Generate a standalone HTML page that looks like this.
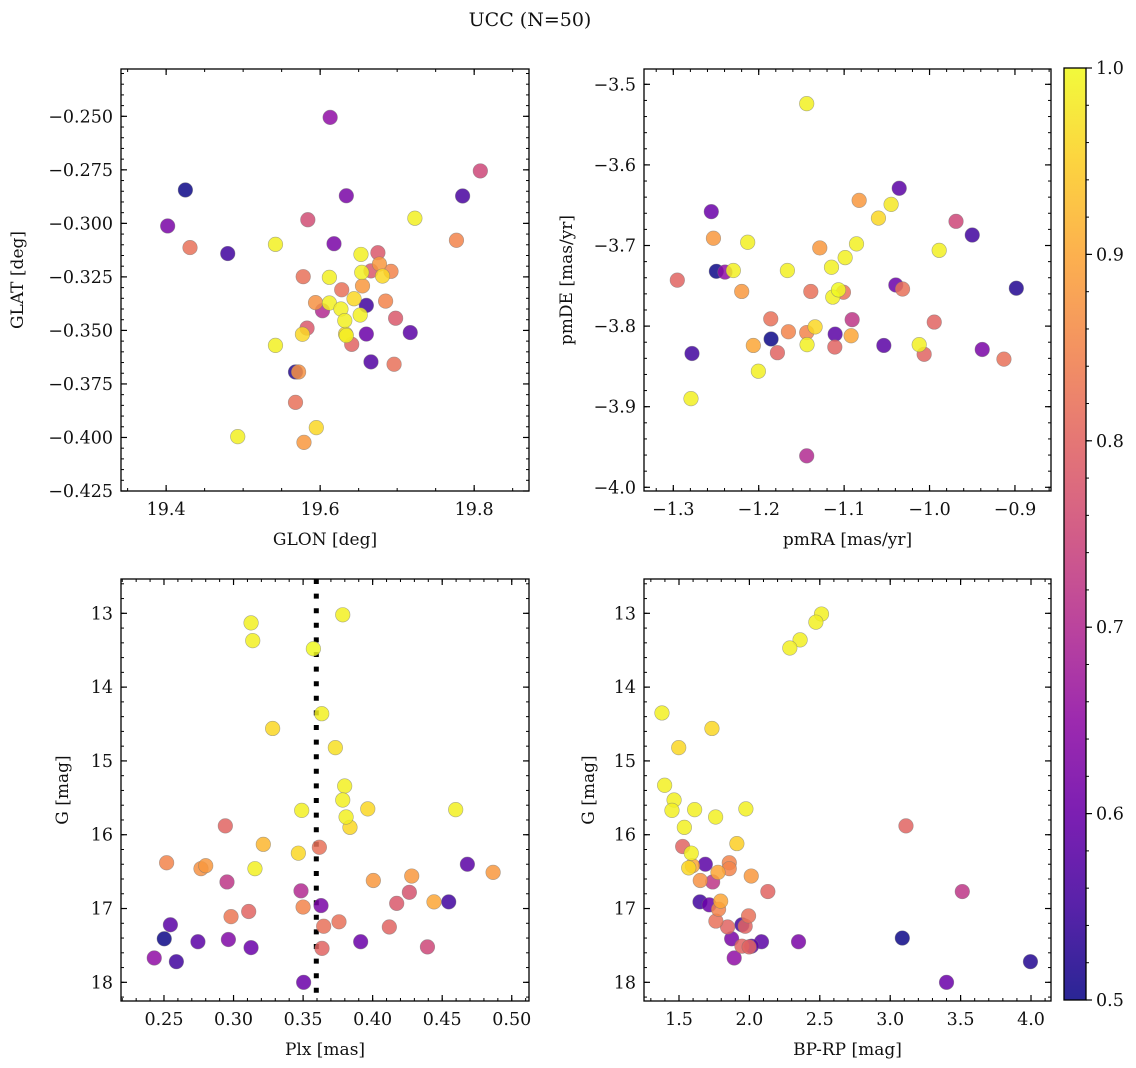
<!DOCTYPE html>
<html><head><meta charset="utf-8">
<style>
html,body{margin:0;padding:0;background:#fff;}
svg{display:block;font-family:"DejaVu Serif","Liberation Serif",serif;}
</style></head>
<body>
<svg id="fig" width="1136" height="1068" viewBox="0 0 1136 1068" xmlns="http://www.w3.org/2000/svg">
<defs><linearGradient id="cbgrad" x1="0" y1="1" x2="0" y2="0"></linearGradient></defs>
<text x="530" y="26" font-size="19" text-anchor="middle" fill="#111">UCC (N=50)</text>
</svg>
<script>
// ---- Panel 1: GLON / GLAT ----
const p1Lon = [19.613,19.808,19.425,19.634,19.785,19.723,19.584,19.402,19.777,19.431,19.542,19.618,19.480,19.653,19.675,19.677,19.666,19.692,19.654,19.681,19.578,19.612,19.628,19.655,19.644,19.594,19.612,19.660,19.685,19.603,19.627,19.652,19.632,19.698,19.583,19.577,19.633,19.634,19.660,19.717,19.641,19.542,19.666,19.696,19.568,19.572,19.568,19.595,19.493,19.579];
const p1Lat = [-0.2505,-0.2755,-0.2844,-0.2871,-0.2872,-0.2976,-0.2983,-0.3012,-0.3079,-0.3113,-0.3098,-0.3095,-0.3141,-0.3145,-0.3137,-0.319,-0.3222,-0.3224,-0.3229,-0.3246,-0.3249,-0.3252,-0.3310,-0.3292,-0.3352,-0.3370,-0.3372,-0.3383,-0.3363,-0.3408,-0.3400,-0.3428,-0.3454,-0.3443,-0.3489,-0.3518,-0.3517,-0.3524,-0.3517,-0.3510,-0.3565,-0.3570,-0.3647,-0.3658,-0.3694,-0.3694,-0.3836,-0.3954,-0.3996,-0.4023];
const p1Prob = [0.65,0.75,0.5,0.62,0.56,0.99,0.76,0.62,0.85,0.82,0.99,0.62,0.55,0.99,0.78,0.88,0.78,0.85,0.99,0.96,0.82,0.99,0.82,0.88,0.96,0.87,0.99,0.55,0.85,0.7,0.99,0.99,0.99,0.78,0.78,0.96,0.96,0.99,0.6,0.58,0.8,0.99,0.57,0.82,0.52,0.87,0.82,0.96,0.99,0.88];
// ---- Panel 2: pmRA / pmDE ----
const p2Ra = [-1.1438,-1.0355,-1.0824,-1.045,-1.0598,-1.2555,-1.253,-1.2129,-1.1285,-1.0855,-0.9887,-0.969,-0.95,-1.2496,-1.2395,-1.2297,-1.1664,-1.1148,-1.0988,-1.2953,-1.2199,-1.139,-1.1133,-1.1008,-1.1066,-1.0395,-1.0316,-0.8984,-1.1859,-1.1652,-1.1438,-1.134,-1.1855,-1.2063,-1.1781,-1.1434,-1.1105,-1.1109,-1.0906,-1.0918,-1.0535,-1.0121,-1.0063,-0.9945,-0.9383,-0.9129,-1.2781,-1.2004,-1.2793,-1.1438];
const p2De = [-3.524,-3.629,-3.644,-3.649,-3.666,-3.658,-3.691,-3.696,-3.703,-3.698,-3.706,-3.670,-3.687,-3.732,-3.733,-3.731,-3.731,-3.727,-3.715,-3.743,-3.757,-3.757,-3.764,-3.758,-3.755,-3.749,-3.754,-3.753,-3.791,-3.807,-3.808,-3.801,-3.816,-3.824,-3.833,-3.823,-3.810,-3.826,-3.792,-3.812,-3.824,-3.823,-3.835,-3.795,-3.829,-3.841,-3.834,-3.856,-3.890,-3.961];
const p2Prob = [0.99,0.58,0.88,0.98,0.96,0.6,0.88,0.99,0.88,0.99,0.99,0.75,0.55,0.5,0.65,0.99,0.99,0.99,0.99,0.8,0.88,0.82,0.99,0.82,1.0,0.6,0.82,0.52,0.82,0.85,0.85,0.96,0.5,0.9,0.8,0.99,0.58,0.8,0.72,0.9,0.58,0.99,0.8,0.8,0.62,0.82,0.55,0.99,0.99,0.7];
// ---- Panel 3: Plx / G ----
const p3Plx = [0.3785,0.3126,0.3138,0.3574,0.3634,0.3281,0.3732,0.3799,0.3785,0.3809,0.3837,0.3965,0.349,0.4597,0.2941,0.3214,0.3466,0.3617,0.2519,0.2766,0.28,0.3154,0.4681,0.4866,0.4281,0.4005,0.4441,0.2953,0.3485,0.4264,0.4173,0.4547,0.35,0.3629,0.3109,0.2982,0.2546,0.3648,0.3758,0.412,0.2502,0.2744,0.2963,0.3126,0.3636,0.3914,0.4394,0.243,0.2589,0.3504];
const p3G = [13.02,13.13,13.37,13.48,14.36,14.56,14.82,15.34,15.53,15.76,15.90,15.65,15.67,15.66,15.88,16.13,16.25,16.17,16.38,16.46,16.42,16.46,16.40,16.51,16.56,16.62,16.91,16.64,16.76,16.78,16.93,16.91,16.98,16.96,17.04,17.11,17.22,17.24,17.18,17.25,17.41,17.45,17.42,17.53,17.54,17.45,17.52,17.67,17.72,18.00];
const p3Prob = [0.99,0.99,0.99,1.0,0.99,0.96,0.97,0.99,0.99,0.99,0.96,0.96,0.99,0.99,0.8,0.92,0.96,0.82,0.85,0.87,0.88,0.99,0.58,0.88,0.88,0.88,0.9,0.72,0.7,0.77,0.78,0.55,0.85,0.62,0.8,0.83,0.58,0.82,0.82,0.8,0.5,0.58,0.63,0.6,0.8,0.6,0.75,0.65,0.55,0.6];
const plxMean = [0.3595];
// ---- Panel 4: BP-RP / G ----
const p4Col = [2.512,2.472,2.36,2.287,1.379,1.734,1.498,1.398,1.465,1.450,1.611,1.76,1.975,1.538,3.112,1.526,1.587,1.911,1.687,1.857,1.857,1.595,1.569,1.777,2.013,1.651,1.739,2.131,3.512,1.649,1.715,1.796,1.781,1.762,1.994,1.947,1.97,1.845,1.874,2.086,2.349,3.086,1.947,1.998,2.015,1.892,3.4,3.996];
const p4G = [13.01,13.12,13.36,13.47,14.35,14.56,14.82,15.33,15.53,15.67,15.66,15.76,15.65,15.90,15.88,16.16,16.25,16.12,16.40,16.38,16.46,16.42,16.45,16.51,16.56,16.62,16.64,16.77,16.77,16.91,16.95,16.90,17.01,17.17,17.10,17.22,17.24,17.25,17.41,17.45,17.45,17.40,17.51,17.52,17.51,17.67,18.00,17.72];
const p4Prob = [0.99,0.99,0.99,0.99,0.99,0.96,0.96,0.99,0.99,0.99,0.99,0.99,0.99,0.99,0.8,0.8,0.99,0.95,0.58,0.85,0.85,0.9,0.96,0.9,0.88,0.87,0.72,0.8,0.72,0.55,0.6,0.9,0.85,0.82,0.82,0.55,0.8,0.8,0.62,0.58,0.62,0.5,0.8,0.8,0.58,0.65,0.6,0.52];
// tick labels
const p1XTicks = [19.4,19.6,19.8];
const p1YTicks = [-0.250,-0.275,-0.300,-0.325,-0.350,-0.375,-0.400,-0.425];
const p2XTicks = [-1.3,-1.2,-1.1,-1.0,-0.9];
const p2YTicks = [-3.5,-3.6,-3.7,-3.8,-3.9,-4.0];
const p3XTicks = [0.25,0.30,0.35,0.40,0.45,0.50];
const gTicks = [13,14,15,16,17,18];
const p4XTicks = [1.5,2.0,2.5,3.0,3.5,4.0];
const cbTicks = [0.5,0.6,0.7,0.8,0.9,1.0];

const NS = "http://www.w3.org/2000/svg";
const svg = document.getElementById('fig');
function mk(tag, attrs, parent){const e=document.createElementNS(NS,tag);for(const k in attrs)e.setAttribute(k,attrs[k]);(parent||svg).appendChild(e);return e;}

const plasmaStops=[[13,8,135],[65,4,157],[106,0,168],[143,13,164],[177,42,144],[204,71,120],[225,100,98],[242,132,75],[252,166,54],[252,206,37],[240,249,33]];
function plasma(t){t=Math.max(0,Math.min(1,t));const f=t*10,i=Math.min(9,Math.floor(f)),r=f-i;const a=plasmaStops[i],b=plasmaStops[i+1];return 'rgb('+a.map((v,k)=>Math.round(v+(b[k]-v)*r)).join(',')+')';}
function probColor(p){return plasma((p-0.5)/0.5);}
function fmt(v,d){const s=Math.abs(v).toFixed(d);return (v<0?'\u2212':'')+s;}

const TF=17.5;
function panel(o){
  const g=mk('g',{});
  
  
  const sx=v=>o.x0+(v-o.xmin)/(o.xmax-o.xmin)*(o.x1-o.x0);
  const sy=v=>o.yinv? o.y0+(v-o.ymin)/(o.ymax-o.ymin)*(o.y1-o.y0) : o.y1-(v-o.ymin)/(o.ymax-o.ymin)*(o.y1-o.y0);
  const mt=mk('g',{stroke:'#000','stroke-width':1},g);
  
  
  for(let v=Math.ceil(o.xmin/o.xminor)*o.xminor; v<=o.xmax; v+=o.xminor){const x=sx(v);mk('line',{x1:x,x2:x,y1:o.y1,y2:o.y1-3},mt);mk('line',{x1:x,x2:x,y1:o.y0,y2:o.y0+3},mt);}
  for(let v=Math.ceil(o.ymin/o.yminor)*o.yminor; v<=o.ymax; v+=o.yminor){const y=sy(v);mk('line',{x1:o.x0,x2:o.x0+3,y1:y,y2:y},mt);mk('line',{x1:o.x1,x2:o.x1-3,y1:y,y2:y},mt);}
  o.xticks.forEach(v=>{const x=sx(v);
    const l=mk('g',{},g);
    
    
    mk('line',{x1:x,x2:x,y1:o.y1,y2:o.y1-6,stroke:'#000','stroke-width':1.2},l);
    mk('line',{x1:x,x2:x,y1:o.y0,y2:o.y0+6,stroke:'#000','stroke-width':1.2},l);
    const t=mk('text',{x:x,y:o.y1+24,'font-size':TF,'text-anchor':'middle',fill:'#111'},l);t.textContent=fmt(v,o.xd);});
  o.yticks.forEach(v=>{const y=sy(v);
    const l=mk('g',{},g);
    
    
    mk('line',{x1:o.x0,x2:o.x0+6,y1:y,y2:y,stroke:'#000','stroke-width':1.2},l);
    mk('line',{x1:o.x1,x2:o.x1-6,y1:y,y2:y,stroke:'#000','stroke-width':1.2},l);
    const t=mk('text',{x:o.x0-8,y:y+6,'font-size':TF,'text-anchor':'end',fill:'#111'},l);t.textContent=fmt(v,o.yd);});
  if(o.vline!==undefined){const x=sx(o.vline);
    const vl=mk('line',{x1:x,x2:x,y1:o.y0,y2:o.y1,stroke:'#000','stroke-width':5,'stroke-dasharray':'5,9.6'},g);
    
    }
  const pts=mk('g',{},g);
  
  
  const order=o.c.map((c,i)=>i).sort((a,b)=>o.c[a]-o.c[b]);
  order.forEach(i=>{
    const c=mk('circle',{cx:sx(o.xs[i]),cy:sy(o.ys[i]),r:7.3,fill:probColor(o.c[i]),'fill-opacity':0.85,stroke:'#777','stroke-opacity':0.6,'stroke-width':0.6},pts);
    
    
  });
  const fr=mk('rect',{x:o.x0,y:o.y0,width:o.x1-o.x0,height:o.y1-o.y0,fill:'none',stroke:'#000','stroke-width':1.3},g);
  
  
  const xl=mk('text',{x:(o.x0+o.x1)/2,y:o.y1+54,'font-size':17,'text-anchor':'middle',fill:'#111'},g);
  xl.textContent=o.xlabel;
  
  
  const yx=o.ylabX, yy=(o.y0+o.y1)/2;
  const yl=mk('text',{x:yx,y:yy,'font-size':17,'text-anchor':'middle',fill:'#111',transform:'rotate(-90 '+yx+' '+yy+')'},g);
  yl.textContent=o.ylabel;
  
  
}

panel({name:'glon-glat-panel',x0:121,x1:529,y0:69,y1:491,xmin:19.3414,xmax:19.8712,ymin:-0.425,ymax:-0.2279,xs:p1Lon,ys:p1Lat,c:p1Prob,xticks:p1XTicks,yticks:p1YTicks,xd:1,yd:3,xminor:0.05,yminor:0.005,xlabel:'GLON [deg]',ylabel:'GLAT [deg]',ylabX:23});
panel({name:'pm-panel',x0:644,x1:1051,y0:69,y1:491,xmin:-1.3343,xmax:-0.8578,ymin:-4.0046,ymax:-3.481,xs:p2Ra,ys:p2De,c:p2Prob,xticks:p2XTicks,yticks:p2YTicks,xd:1,yd:1,xminor:0.02,yminor:0.02,xlabel:'pmRA [mas/yr]',ylabel:'pmDE [mas/yr]',ylabX:572});
panel({name:'plx-g-panel',x0:121,x1:529,y0:579,y1:1001,xmin:0.2191,xmax:0.5124,ymin:12.535,ymax:18.253,yinv:true,xs:p3Plx,ys:p3G,c:p3Prob,xticks:p3XTicks,yticks:gTicks,xd:2,yd:0,xminor:0.01,yminor:0.2,xlabel:'Plx [mas]',ylabel:'G [mag]',ylabX:68,vline:plxMean[0]});
panel({name:'cmd-panel',x0:644,x1:1051,y0:579,y1:1001,xmin:1.2514,xmax:4.142,ymin:12.535,ymax:18.253,yinv:true,xs:p4Col,ys:p4G,c:p4Prob,xticks:p4XTicks,yticks:gTicks,xd:1,yd:0,xminor:0.1,yminor:0.2,xlabel:'BP-RP [mag]',ylabel:'G [mag]',ylabX:594});

const grad=document.getElementById('cbgrad');
for(let k=0;k<=20;k++){mk('stop',{offset:(k/20),'stop-color':plasma(k/20),'stop-opacity':0.88},grad);}
const cb=mk('g',{});


const cbx0=1064,cbx1=1086,cby0=68,cby1=1000;
mk('rect',{x:cbx0,y:cby0,width:cbx1-cbx0,height:cby1-cby0,fill:'url(#cbgrad)',stroke:'#000','stroke-width':1.3},cb);
const cy=v=>cby1-(v-0.5)/0.5*(cby1-cby0);
for(let v=0.5;v<=1.0001;v+=0.02){const y=cy(v);mk('line',{x1:cbx1,x2:cbx1+3,y1:y,y2:y,stroke:'#000','stroke-width':1},cb);}
cbTicks.forEach(v=>{const y=cy(v);
  mk('line',{x1:cbx1,x2:cbx1+6,y1:y,y2:y,stroke:'#000','stroke-width':1.2},cb);
  const t=mk('text',{x:cbx1+10,y:y+6,'font-size':TF,fill:'#111'},cb);
  t.textContent=v.toFixed(1);
  
  
});
</script>
</body></html>
